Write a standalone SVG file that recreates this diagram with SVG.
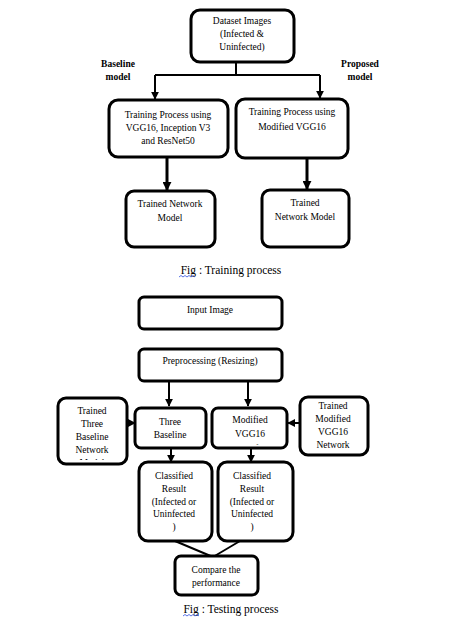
<svg xmlns="http://www.w3.org/2000/svg" width="459" height="621" viewBox="0 0 459 621">
<style>
.box{fill:#fff;stroke:#000;stroke-width:3;}
.t{font-family:"Liberation Serif","Times New Roman",serif;font-size:9.5px;fill:#000;text-anchor:middle;}
.b{font-weight:bold;}
.cap{font-size:11.5px;}
.ln{fill:none;stroke:#000;stroke-width:2;}
.thick{fill:none;stroke:#000;stroke-width:3;}
</style>
<defs>
<marker id="ah" viewBox="0 0 10 10" refX="9" refY="5" markerWidth="4" markerHeight="4" orient="auto" markerUnits="strokeWidth">
<path d="M0,0 L10,5 L0,10 z" fill="#000"/>
</marker>
<marker id="ah2" viewBox="0 0 10 10" refX="9" refY="5" markerWidth="3" markerHeight="3" orient="auto" markerUnits="strokeWidth">
<path d="M0,0 L10,5 L0,10 z" fill="#000"/>
</marker>
<clipPath id="c1"><rect x="58" y="398" width="69" height="62"/></clipPath>
<clipPath id="c2"><rect x="212" y="407" width="75" height="38"/></clipPath>
</defs>
<rect width="459" height="621" fill="#fff"/>

<g id="connectors">
<polyline class="ln" points="236,62 236,75"/>
<polyline class="ln" points="155,75 320,75"/>
<line class="ln" x1="155" y1="75" x2="155" y2="99" marker-end="url(#ah)"/>
<line class="ln" x1="320" y1="75" x2="320" y2="98" marker-end="url(#ah)"/>
<line class="thick" x1="167" y1="158" x2="167" y2="190" marker-end="url(#ah2)"/>
<line class="thick" x1="307" y1="159" x2="307" y2="189" marker-end="url(#ah2)"/>
<line class="ln" x1="169" y1="381" x2="169" y2="406" marker-end="url(#ah)"/>
<line class="ln" x1="248" y1="381" x2="248" y2="406" marker-end="url(#ah)"/>
<line class="ln" x1="127" y1="423" x2="135" y2="423" marker-end="url(#ah)"/>
<line class="ln" x1="300" y1="423" x2="288" y2="423" marker-end="url(#ah)"/>
<line class="ln" x1="171" y1="448" x2="171" y2="462" marker-end="url(#ah)"/>
<line class="ln" x1="251" y1="448" x2="251" y2="462" marker-end="url(#ah)"/>
<line class="ln" x1="175" y1="541" x2="213" y2="557"/>
<line class="ln" x1="240" y1="541" x2="213" y2="557"/>
</g>

<g id="dataset">
<rect class="box" x="191" y="10" width="103" height="52" rx="9"/>
<text class="t" x="242" y="24">Dataset Images</text>
<text class="t" x="242" y="37">(Infected &amp;</text>
<text class="t" x="242" y="50">Uninfected)</text>
</g>
<g id="label-baseline">
<text class="t b" x="118" y="67">Baseline</text>
<text class="t b" x="118" y="80">model</text>
</g>
<g id="label-proposed">
<text class="t b" x="360" y="67">Proposed</text>
<text class="t b" x="360" y="80">model</text>
</g>
<g id="train-baseline">
<rect class="box" x="109" y="100" width="119" height="57" rx="9"/>
<text class="t" x="168" y="118">Training Process using</text>
<text class="t" x="168" y="131">VGG16, Inception V3</text>
<text class="t" x="168" y="144">and ResNet50</text>
</g>
<g id="train-proposed">
<rect class="box" x="236" y="99" width="112" height="59" rx="9"/>
<text class="t" x="292" y="115">Training Process using</text>
<text class="t" x="292" y="130">Modified VGG16</text>
</g>
<g id="trained-baseline">
<rect class="box" x="126" y="191" width="89" height="56" rx="8"/>
<text class="t" x="170" y="207">Trained Network</text>
<text class="t" x="170" y="221">Model</text>
</g>
<g id="trained-proposed">
<rect class="box" x="262" y="190" width="87" height="57" rx="8"/>
<text class="t" x="305" y="206">Trained</text>
<text class="t" x="305" y="220">Network Model</text>
</g>
<g id="caption-training">
<text class="t cap" x="231" y="274">Fig : Training process</text>
<path d="M179,277 l2,-1.5 l2,1.5 l2,-1.5 l2,1.5 l2,-1.5 l2,1.5 l2,-1.5 l2,1.5" fill="none" stroke="#3050e0" stroke-width="0.8"/>
</g>

<g id="input">
<rect class="box" x="139" y="297" width="143" height="32" rx="5"/>
<text class="t" x="210" y="313">Input Image</text>
</g>
<g id="preprocess">
<rect class="box" x="139" y="349" width="143" height="32" rx="5"/>
<text class="t" x="210" y="364">Preprocessing (Resizing)</text>
</g>
<g id="trained-three">
<rect class="box" x="58" y="398" width="69" height="66" rx="8"/>
<g clip-path="url(#c1)">
<text class="t" x="92" y="414">Trained</text>
<text class="t" x="92" y="427">Three</text>
<text class="t" x="92" y="440">Baseline</text>
<text class="t" x="92" y="453">Network</text>
<text class="t" x="92" y="466">Model</text>
</g>
</g>
<g id="three-baseline">
<rect class="box" x="135" y="408" width="71" height="40" rx="6"/>
<text class="t" x="170" y="425">Three</text>
<text class="t" x="170" y="438">Baseline</text>
</g>
<g id="modified-vgg">
<rect class="box" x="212" y="408" width="75" height="40" rx="6"/>
<g clip-path="url(#c2)">
<text class="t" x="250" y="423">Modified</text>
<text class="t" x="250" y="437">VGG16</text>
<text class="t" x="250" y="452">Classifier</text>
</g>
</g>
<g id="trained-modified">
<rect class="box" x="300" y="397" width="68" height="58" rx="8"/>
<text class="t" x="333" y="409">Trained</text>
<text class="t" x="333" y="422">Modified</text>
<text class="t" x="333" y="435">VGG16</text>
<text class="t" x="333" y="448">Network</text>
</g>
<g id="classified-left">
<rect class="box" x="139" y="462" width="73" height="79" rx="9"/>
<text class="t" x="174" y="479">Classified</text>
<text class="t" x="174" y="492">Result</text>
<text class="t" x="174" y="505">(Infected or</text>
<text class="t" x="174" y="517">Uninfected</text>
<text class="t" x="174" y="530">)</text>
</g>
<g id="classified-right">
<rect class="box" x="218" y="462" width="75" height="79" rx="9"/>
<text class="t" x="252" y="479">Classified</text>
<text class="t" x="252" y="492">Result</text>
<text class="t" x="252" y="505">(Infected or</text>
<text class="t" x="252" y="517">Uninfected</text>
<text class="t" x="252" y="530">)</text>
</g>
<g id="compare">
<rect class="box" x="175" y="556" width="83" height="39" rx="6"/>
<text class="t" x="216" y="573">Compare the</text>
<text class="t" x="216" y="586">performance</text>
</g>
<g id="caption-testing">
<text class="t cap" x="231" y="613">Fig : Testing process</text>
<path d="M183,616 l2,-1.5 l2,1.5 l2,-1.5 l2,1.5 l2,-1.5 l2,1.5 l2,-1.5 l2,1.5" fill="none" stroke="#3050e0" stroke-width="0.8"/>
</g>
</svg>
